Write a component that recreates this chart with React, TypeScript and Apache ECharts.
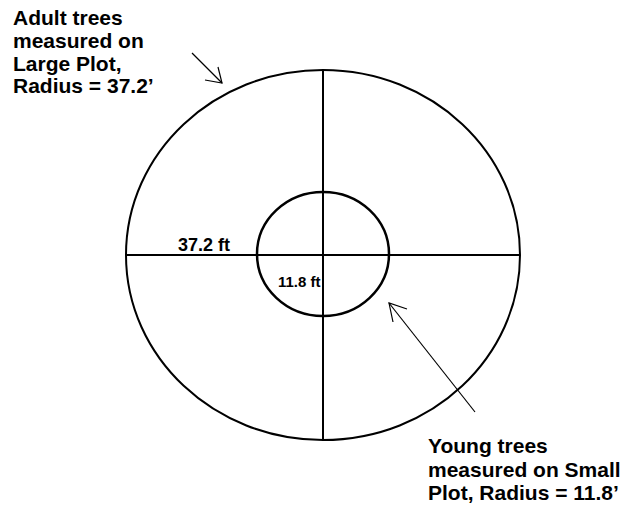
import React, { useEffect, useRef } from "react";
import * as echarts from "echarts";

const largeLabelLines = ["Adult trees", "measured on", "Large Plot,", "Radius = 37.2\u2019"];
const smallLabelLines = ["Young trees", "measured on Small", "Plot, Radius = 11.8\u2019"];
const radiusLabels = ["37.2 ft", "11.8 ft"];

const FONT = '"Liberation Sans", Arial, sans-serif';

function textLines(lines: string[], x: number, firstBaseline: number, spacing: number, size: number) {
  return lines.map((t, i) => ({
    type: "text",
    style: {
      text: t,
      x,
      y: firstBaseline + i * spacing - 0.3465 * size,
      font: `bold ${size}px ${FONT}`,
      fill: "#000",
      align: "left",
      verticalAlign: "middle",
    },
    silent: true,
  }));
}

export default function App() {
  const ref = useRef<HTMLDivElement>(null);
  useEffect(() => {
    document.body.style.margin = "0";
    const chart = echarts.init(ref.current!, null, { renderer: "svg" });
    const cx = 323;
    const cy = 255;
    const stroke = { stroke: "#000", lineWidth: 2, fill: "none" };
    const thin = { stroke: "#000", lineWidth: 1.2, fill: "none" };
    chart.setOption({
      animation: false,
      backgroundColor: "#fff",
      graphic: [
        { type: "ellipse", shape: { cx, cy, rx: 197, ry: 185 }, style: stroke, silent: true },
        { type: "line", shape: { x1: cx - 197, y1: cy, x2: cx + 197, y2: cy }, style: stroke, silent: true },
        { type: "line", shape: { x1: cx, y1: cy - 185, x2: cx, y2: cy + 185 }, style: stroke, silent: true },
        { type: "ellipse", shape: { cx, cy: 254, rx: 66, ry: 62 }, style: { ...stroke, lineWidth: 2.5 }, silent: true },
        // arrow to large plot
        { type: "line", shape: { x1: 192, y1: 53, x2: 222, y2: 83 }, style: thin, silent: true },
        { type: "polyline", shape: { points: [[218, 67], [222, 83], [205, 80]] }, style: thin, silent: true },
        // arrow to small plot
        { type: "line", shape: { x1: 475, y1: 412, x2: 389, y2: 303 }, style: thin, silent: true },
        { type: "polyline", shape: { points: [[407, 309], [389, 303], [393, 322]] }, style: thin, silent: true },
        ...textLines(largeLabelLines, 13, 25, 22.7, 21),
        ...textLines(smallLabelLines, 428, 453, 23.5, 21),
        ...textLines([radiusLabels[0]], 178, 251, 0, 18),
        ...textLines([radiusLabels[1]], 278, 287, 0, 15),
      ],
    });
    return () => chart.dispose();
  }, []);
  return <div ref={ref} style={{ position: "absolute", left: 0, top: 0, width: 624, height: 512 }} />;
}
